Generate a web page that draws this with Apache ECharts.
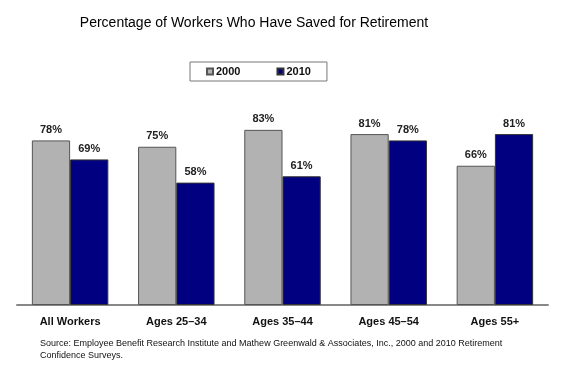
<!DOCTYPE html>
<html><head><meta charset="utf-8">
<script src="https://cdn.jsdelivr.net/npm/echarts@6/dist/echarts.min.js"></script>
<style>html,body{margin:0;padding:0;background:#fff}#c{width:575px;height:388px}</style>
</head><body><div id="c"></div>
<script>
const categories = ['All Workers', 'Ages 25\u201334', 'Ages 35\u201344', 'Ages 45\u201354', 'Ages 55+'];
const values2000 = [78, 75, 83, 81, 66];
const values2010 = [69, 58, 61, 78, 81];
const seriesNames = ['2000', '2010'];

const chart = echarts.init(document.getElementById('c'), null, {renderer: 'canvas'});
const labelStyle = {show: true, position: 'top', distance: 5, formatter: '{c}%', color: '#222', fontFamily: 'Liberation Sans, Arial', fontWeight: 'bold', fontSize: 11};
chart.setOption({
  animation: false,
  backgroundColor: '#fff',
  title: [{
    text: 'Percentage of Workers Who Have Saved for Retirement',
    left: 249, top: 11, textAlign: 'center',
    textStyle: {fontFamily: 'Liberation Sans, Arial', fontSize: 14, fontWeight: 'normal', color: '#000'}
  }, {
    text: 'Source: Employee Benefit Research Institute and Mathew Greenwald & Associates, Inc., 2000 and 2010 Retirement\nConfidence Surveys.',
    left: 35, top: 333,
    textStyle: {fontFamily: 'Liberation Sans, Arial', fontSize: 9, fontWeight: 'normal', color: '#111', lineHeight: 12}
  }],
  legend: {
    data: seriesNames,
    left: 190, top: 62, width: 132,
    itemWidth: 6, itemHeight: 6, itemGap: 36,
    padding: [4, 16, 4, 16],
    borderColor: '#777', borderWidth: 1,
    icon: 'rect',
    textStyle: {fontFamily: 'Liberation Sans, Arial', fontSize: 11, fontWeight: 'bold', color: '#111', padding: [0, 0, 0, -2]}
  },
  grid: {left: 17, right: 27, top: 94, bottom: 83, containLabel: false},
  xAxis: {
    type: 'category', data: categories,
    axisLine: {lineStyle: {color: '#888', width: 2}},
    axisTick: {show: false},
    axisLabel: {margin: 11, fontFamily: 'Liberation Sans, Arial', fontWeight: 'bold', fontSize: 11, color: '#111'}
  },
  yAxis: {type: 'value', min: 0, max: 100, show: false, splitLine: {show: false}},
  series: [{
    name: seriesNames[0], type: 'bar', data: values2000,
    barGap: '0%', barCategoryGap: '28%',
    itemStyle: {color: '#b2b2b2', borderColor: '#555', borderWidth: 1},
    label: labelStyle
  }, {
    name: seriesNames[1], type: 'bar', data: values2010,
    itemStyle: {color: '#000080', borderColor: '#333', borderWidth: 1},
    label: labelStyle
  }]
});
</script></body></html>
